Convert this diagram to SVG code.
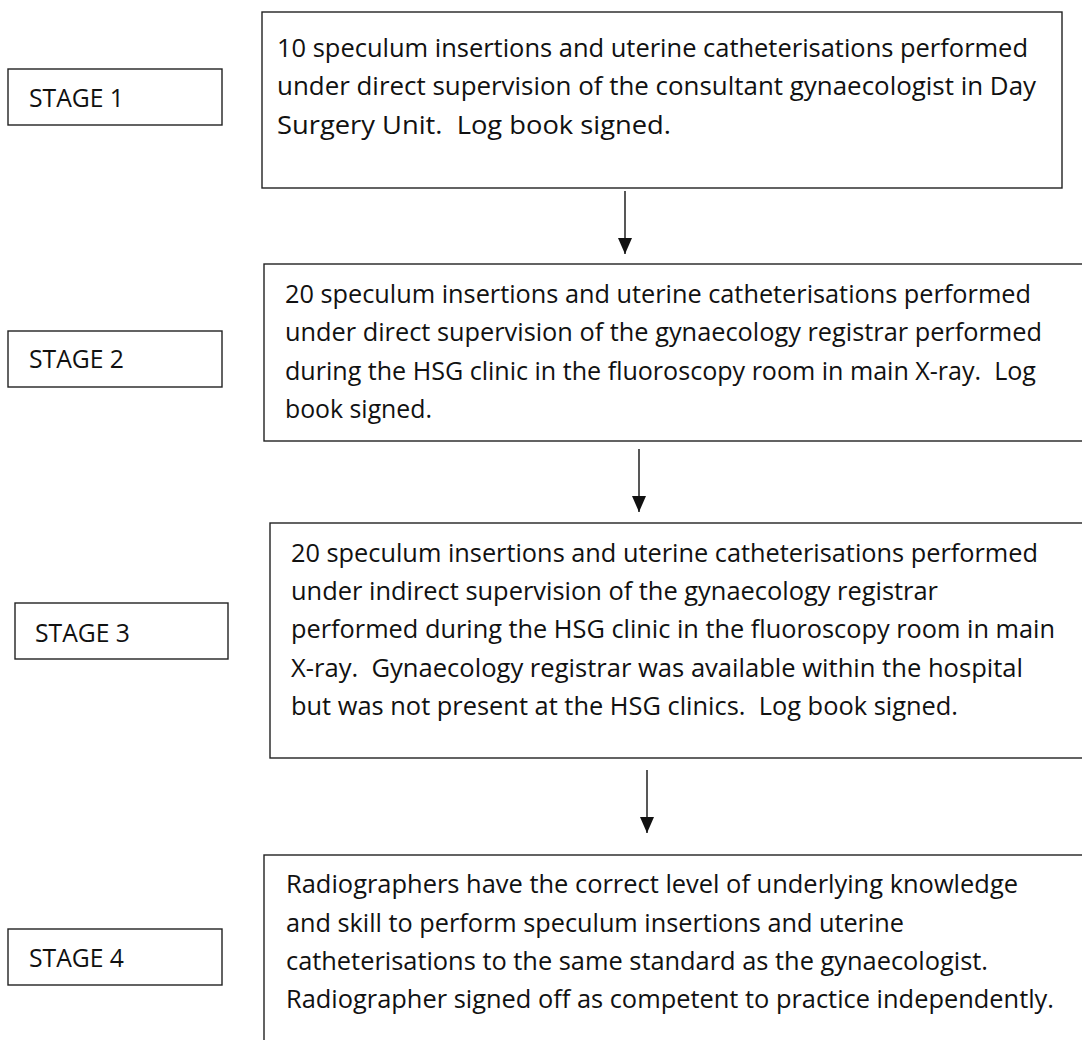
<svg xmlns="http://www.w3.org/2000/svg" width="1082" height="1040" viewBox="0 0 1082 1040">
<defs>
<style>
.box{fill:#fff;stroke:#222;stroke-width:1.4}
.t{font-family:"Open Sans","Noto Sans","Liberation Sans",sans-serif;font-size:25px;fill:#111;white-space:pre}
.conn{stroke:#111;stroke-width:1.4;fill:none}
</style>
<marker id="ah" markerWidth="16" markerHeight="14" refX="16" refY="7" orient="auto" markerUnits="userSpaceOnUse" viewBox="0 0 16 14">
<path d="M0,0 L16,7 L0,14 Z" fill="#111"/>
</marker>
</defs>
<rect width="1082" height="1040" fill="#fff"/>

<g id="stage1">
<rect class="box" x="8" y="69" width="214" height="56"/>
<text class="t" x="29" y="107" textLength="95" lengthAdjust="spacingAndGlyphs">STAGE 1</text>
</g>
<g id="step1">
<rect class="box" x="262" y="12" width="800" height="176"/>
<text class="t" x="277" y="57" textLength="751" lengthAdjust="spacingAndGlyphs">10 speculum insertions and uterine catheterisations performed</text>
<text class="t" x="277" y="95" textLength="759" lengthAdjust="spacingAndGlyphs">under direct supervision of the consultant gynaecologist in Day</text>
<text class="t" x="277" y="134" textLength="394" lengthAdjust="spacingAndGlyphs">Surgery Unit.  Log book signed.</text>
</g>

<g id="stage2">
<rect class="box" x="8" y="331" width="214" height="56"/>
<text class="t" x="29" y="368" textLength="95" lengthAdjust="spacingAndGlyphs">STAGE 2</text>
</g>
<g id="step2">
<rect class="box" x="264" y="264" width="840" height="177"/>
<text class="t" x="285" y="303" textLength="746" lengthAdjust="spacingAndGlyphs">20 speculum insertions and uterine catheterisations performed</text>
<text class="t" x="285" y="341" textLength="757" lengthAdjust="spacingAndGlyphs">under direct supervision of the gynaecology registrar performed</text>
<text class="t" x="285" y="380" textLength="751" lengthAdjust="spacingAndGlyphs">during the HSG clinic in the fluoroscopy room in main X-ray.  Log</text>
<text class="t" x="285" y="418" textLength="147" lengthAdjust="spacingAndGlyphs">book signed.</text>
</g>

<g id="stage3">
<rect class="box" x="15" y="603" width="213" height="56"/>
<text class="t" x="35" y="642" textLength="95" lengthAdjust="spacingAndGlyphs">STAGE 3</text>
</g>
<g id="step3">
<rect class="box" x="270" y="523" width="840" height="235"/>
<text class="t" x="291" y="562" textLength="747" lengthAdjust="spacingAndGlyphs">20 speculum insertions and uterine catheterisations performed</text>
<text class="t" x="291" y="600" textLength="647" lengthAdjust="spacingAndGlyphs">under indirect supervision of the gynaecology registrar</text>
<text class="t" x="291" y="638" textLength="764" lengthAdjust="spacingAndGlyphs">performed during the HSG clinic in the fluoroscopy room in main</text>
<text class="t" x="291" y="677" textLength="732" lengthAdjust="spacingAndGlyphs">X-ray.  Gynaecology registrar was available within the hospital</text>
<text class="t" x="291" y="715" textLength="667" lengthAdjust="spacingAndGlyphs">but was not present at the HSG clinics.  Log book signed.</text>
</g>

<g id="stage4">
<rect class="box" x="8" y="929" width="214" height="56"/>
<text class="t" x="29" y="967" textLength="95" lengthAdjust="spacingAndGlyphs">STAGE 4</text>
</g>
<g id="step4">
<rect class="box" x="264" y="855" width="840" height="200"/>
<text class="t" x="286" y="893" textLength="732" lengthAdjust="spacingAndGlyphs">Radiographers have the correct level of underlying knowledge</text>
<text class="t" x="286" y="932" textLength="618" lengthAdjust="spacingAndGlyphs">and skill to perform speculum insertions and uterine</text>
<text class="t" x="286" y="970" textLength="702" lengthAdjust="spacingAndGlyphs">catheterisations to the same standard as the gynaecologist.</text>
<text class="t" x="286" y="1008" textLength="768" lengthAdjust="spacingAndGlyphs">Radiographer signed off as competent to practice independently.</text>
</g>

<g id="connectors">
<line class="conn" x1="625" y1="191" x2="625" y2="254" marker-end="url(#ah)"/>
<line class="conn" x1="639" y1="449" x2="639" y2="512" marker-end="url(#ah)"/>
<line class="conn" x1="647" y1="770" x2="647" y2="833" marker-end="url(#ah)"/>
</g>
</svg>
